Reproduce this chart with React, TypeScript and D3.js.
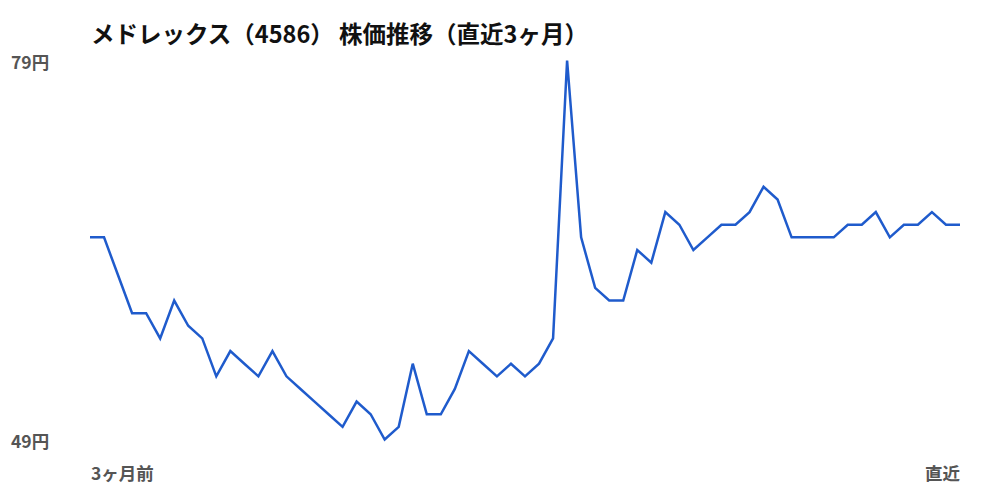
import { useRef, useEffect } from "react";
import * as d3 from "d3";

const title = "メドレックス（4586） 株価推移（直近3ヶ月）";
const yTickLabels = ["79円", "49円"];
const yTickValues = [79, 49];
const xEndLabels = ["3ヶ月前", "直近"];

// 終値（円）、3ヶ月前 → 直近
const prices = [
  65, 65, 62, 59, 59, 57, 60, 58, 57, 54,
  56, 55, 54, 56, 54, 53, 52, 51, 50, 52,
  51, 49, 50, 55, 51, 51, 53, 56, 55, 54,
  55, 54, 55, 57, 79, 65, 61, 60, 60, 64,
  63, 67, 66, 64, 65, 66, 66, 67, 69, 68,
  65, 65, 65, 65, 66, 66, 67, 65, 66, 66,
  67, 66, 66,
];

const WIDTH = 1000;
const HEIGHT = 500;
const FONT = "'Noto Sans CJK JP', 'Noto Sans', sans-serif";

export default function App() {
  const svgRef = useRef<SVGSVGElement>(null);

  useEffect(() => {
    if (!svgRef.current) return;
    const svg = d3.select(svgRef.current);
    svg.selectAll("*").remove();

    const x = d3
      .scaleLinear()
      .domain([0, prices.length - 1])
      .range([90, 960]);
    const y = d3
      .scaleLinear()
      .domain([49, 79])
      .range([439.5, 60.5]);

    svg
      .append("text")
      .attr("x", 91)
      .attr("y", 43)
      .attr("font-family", FONT)
      .attr("font-size", 23.5)
      .attr("font-weight", 700)
      .attr("fill", "#111")
      .text(title);

    // y labels (top and bottom only)
    yTickValues.forEach((v, i) => {
      svg
        .append("text")
        .attr("x", 11)
        .attr("y", y(v) + 1)
        .attr("dominant-baseline", "central")
        .attr("font-family", FONT)
        .attr("font-size", 17.5)
        .attr("font-weight", 700)
        .attr("fill", "#555")
        .text(yTickLabels[i]);
    });

    // x end labels
    svg
      .append("text")
      .attr("x", x(0) + 1)
      .attr("y", 480)
      .attr("font-family", FONT)
      .attr("font-size", 17.5)
      .attr("font-weight", 700)
      .attr("fill", "#555")
      .text(xEndLabels[0]);
    svg
      .append("text")
      .attr("x", x(prices.length - 1))
      .attr("y", 480)
      .attr("text-anchor", "end")
      .attr("font-family", FONT)
      .attr("font-size", 17.5)
      .attr("font-weight", 700)
      .attr("fill", "#555")
      .text(xEndLabels[1]);

    const line = d3
      .line<number>()
      .x((_, i) => x(i))
      .y((d) => y(d));

    svg
      .append("path")
      .datum(prices)
      .attr("d", line)
      .attr("fill", "none")
      .attr("stroke", "#1f5bcc")
      .attr("stroke-width", 2.5)
      .attr("stroke-linejoin", "miter");
  }, []);

  return (
    <svg
      ref={svgRef}
      width={WIDTH}
      height={HEIGHT}
      style={{ position: "absolute", left: 0, top: 0, background: "#fff" }}
    />
  );
}
